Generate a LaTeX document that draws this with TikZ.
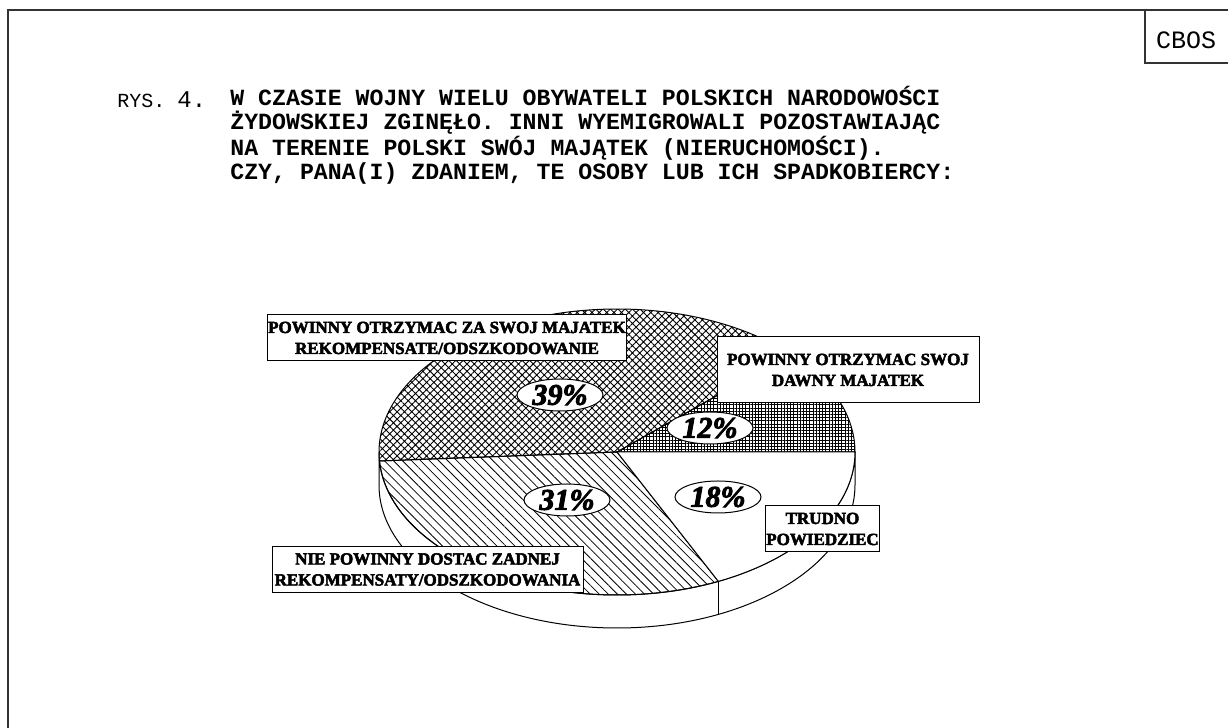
\documentclass[tikz,border=0pt]{standalone}
\usepackage{fontspec}
\setmainfont{Liberation Serif}[BoldFeatures={FakeBold=3},BoldItalicFeatures={FakeBold=3}]
\newfontfamily\cbosfont{Liberation Mono}
\usetikzlibrary{shapes.geometric,patterns.meta}

\tikzset{
  frameline/.style={draw=black!80, line width=0.6pt},
  slice/.style={draw, line width=0.5pt},
  pct/.style={ellipse, draw, fill=white, line width=0.5pt, inner sep=0pt,
    minimum width=43pt, minimum height=16pt,
    font=\fontsize{15}{15}\selectfont\bfseries\itshape},
  lbl/.style={draw, fill=white, line width=0.5pt, align=center, inner xsep=0.5pt,
    minimum height=23pt, font=\fontsize{8.5}{10.5}\selectfont\bfseries},
}

\begin{document}
\begin{tikzpicture}[x=0.5pt,y=0.5pt]
\useasboundingbox (0,0) rectangle (1228,728);
%Frame
\draw[frameline] (8,0) -- (8,718) -- (1228,718);
\draw[frameline] (1145,718) -- (1145,665) -- (1228,665);
\node[font=\cbosfont\fontsize{12.5}{12.5}\selectfont] (cbos) at (1186,688) {CBOS};
%Title
\node[anchor=base west, inner sep=0pt, font=\cbosfont] (rys) at (117,620)
  {{\fontsize{10}{12}\selectfont RYS.} {\fontsize{12}{12}\selectfont 4.}};
\node[anchor=base west, inner sep=0pt, align=left,
  font=\cbosfont\bfseries\fontsize{11.6}{12}\selectfont] (title) at (230,548)
  {W CZASIE WOJNY WIELU OBYWATELI POLSKICH NARODOWOŚCI\\
   ŻYDOWSKIEJ ZGINĘŁO. INNI WYEMIGROWALI POZOSTAWIAJĄC\\
   NA TERENIE POLSKI SWÓJ MAJĄTEK (NIERUCHOMOŚCI).\\
   CZY, PANA(I) ZDANIEM, TE OSOBY LUB ICH SPADKOBIERCY:};
%Pie side
\coordinate (C) at (617,276);
\draw[slice, fill=white] (379,276) -- (379,243)
  arc[start angle=180, end angle=360, x radius=238, y radius=143]
  -- (855,276)
  arc[start angle=0, end angle=-180, x radius=238, y radius=143] -- cycle;
%Slices
\draw[slice, pattern={Hatch[angle=0,distance=1.6pt,line width=0.3pt]}]
  (C) -- ++(0:238 and 143)
  arc[start angle=0, end angle=43.2, x radius=238, y radius=143] -- cycle;
\draw[slice, pattern={Hatch[angle=45,distance=2.6pt,line width=0.45pt]}]
  (C) -- ++(43.2:238 and 143)
  arc[start angle=43.2, end angle=183.6, x radius=238, y radius=143] -- cycle;
\draw[slice, pattern={Lines[angle=-45,distance=3.2pt,line width=0.4pt]}]
  (C) -- ++(183.6:238 and 143)
  arc[start angle=183.6, end angle=295.2, x radius=238, y radius=143] -- cycle;
\draw[slice, fill=white]
  (C) -- ++(295.2:238 and 143)
  arc[start angle=295.2, end angle=360, x radius=238, y radius=143] -- cycle;
\path (C) ++(295.2:238 and 143) coordinate (seam);
\draw[slice] (seam) -- ++(0,-33);
%Percentages
\node[pct] (p39) at (560,333) {39\%};
\node[pct] (p12) at (710,300) {12\%};
\node[pct] (p31) at (567,228) {31\%};
\node[pct] (p18) at (718,231) {18\%};
%Labels
\node[lbl, minimum width=178pt] (l39) at (447,390)
  {POWINNY OTRZYMAC ZA SWOJ MAJATEK\\REKOMPENSATE/ODSZKODOWANIE};
\node[lbl, minimum width=131pt, minimum height=33pt] (l12) at (848,358)
  {POWINNY OTRZYMAC SWOJ\\DAWNY MAJATEK};
\node[lbl, minimum width=155.5pt] (l31) at (427.5,158.5)
  {NIE POWINNY DOSTAC ZADNEJ\\REKOMPENSATY/ODSZKODOWANIA};
\node[lbl, minimum width=56.5pt] (l18) at (822.5,199)
  {TRUDNO\\POWIEDZIEC};
\end{tikzpicture}
\end{document}
